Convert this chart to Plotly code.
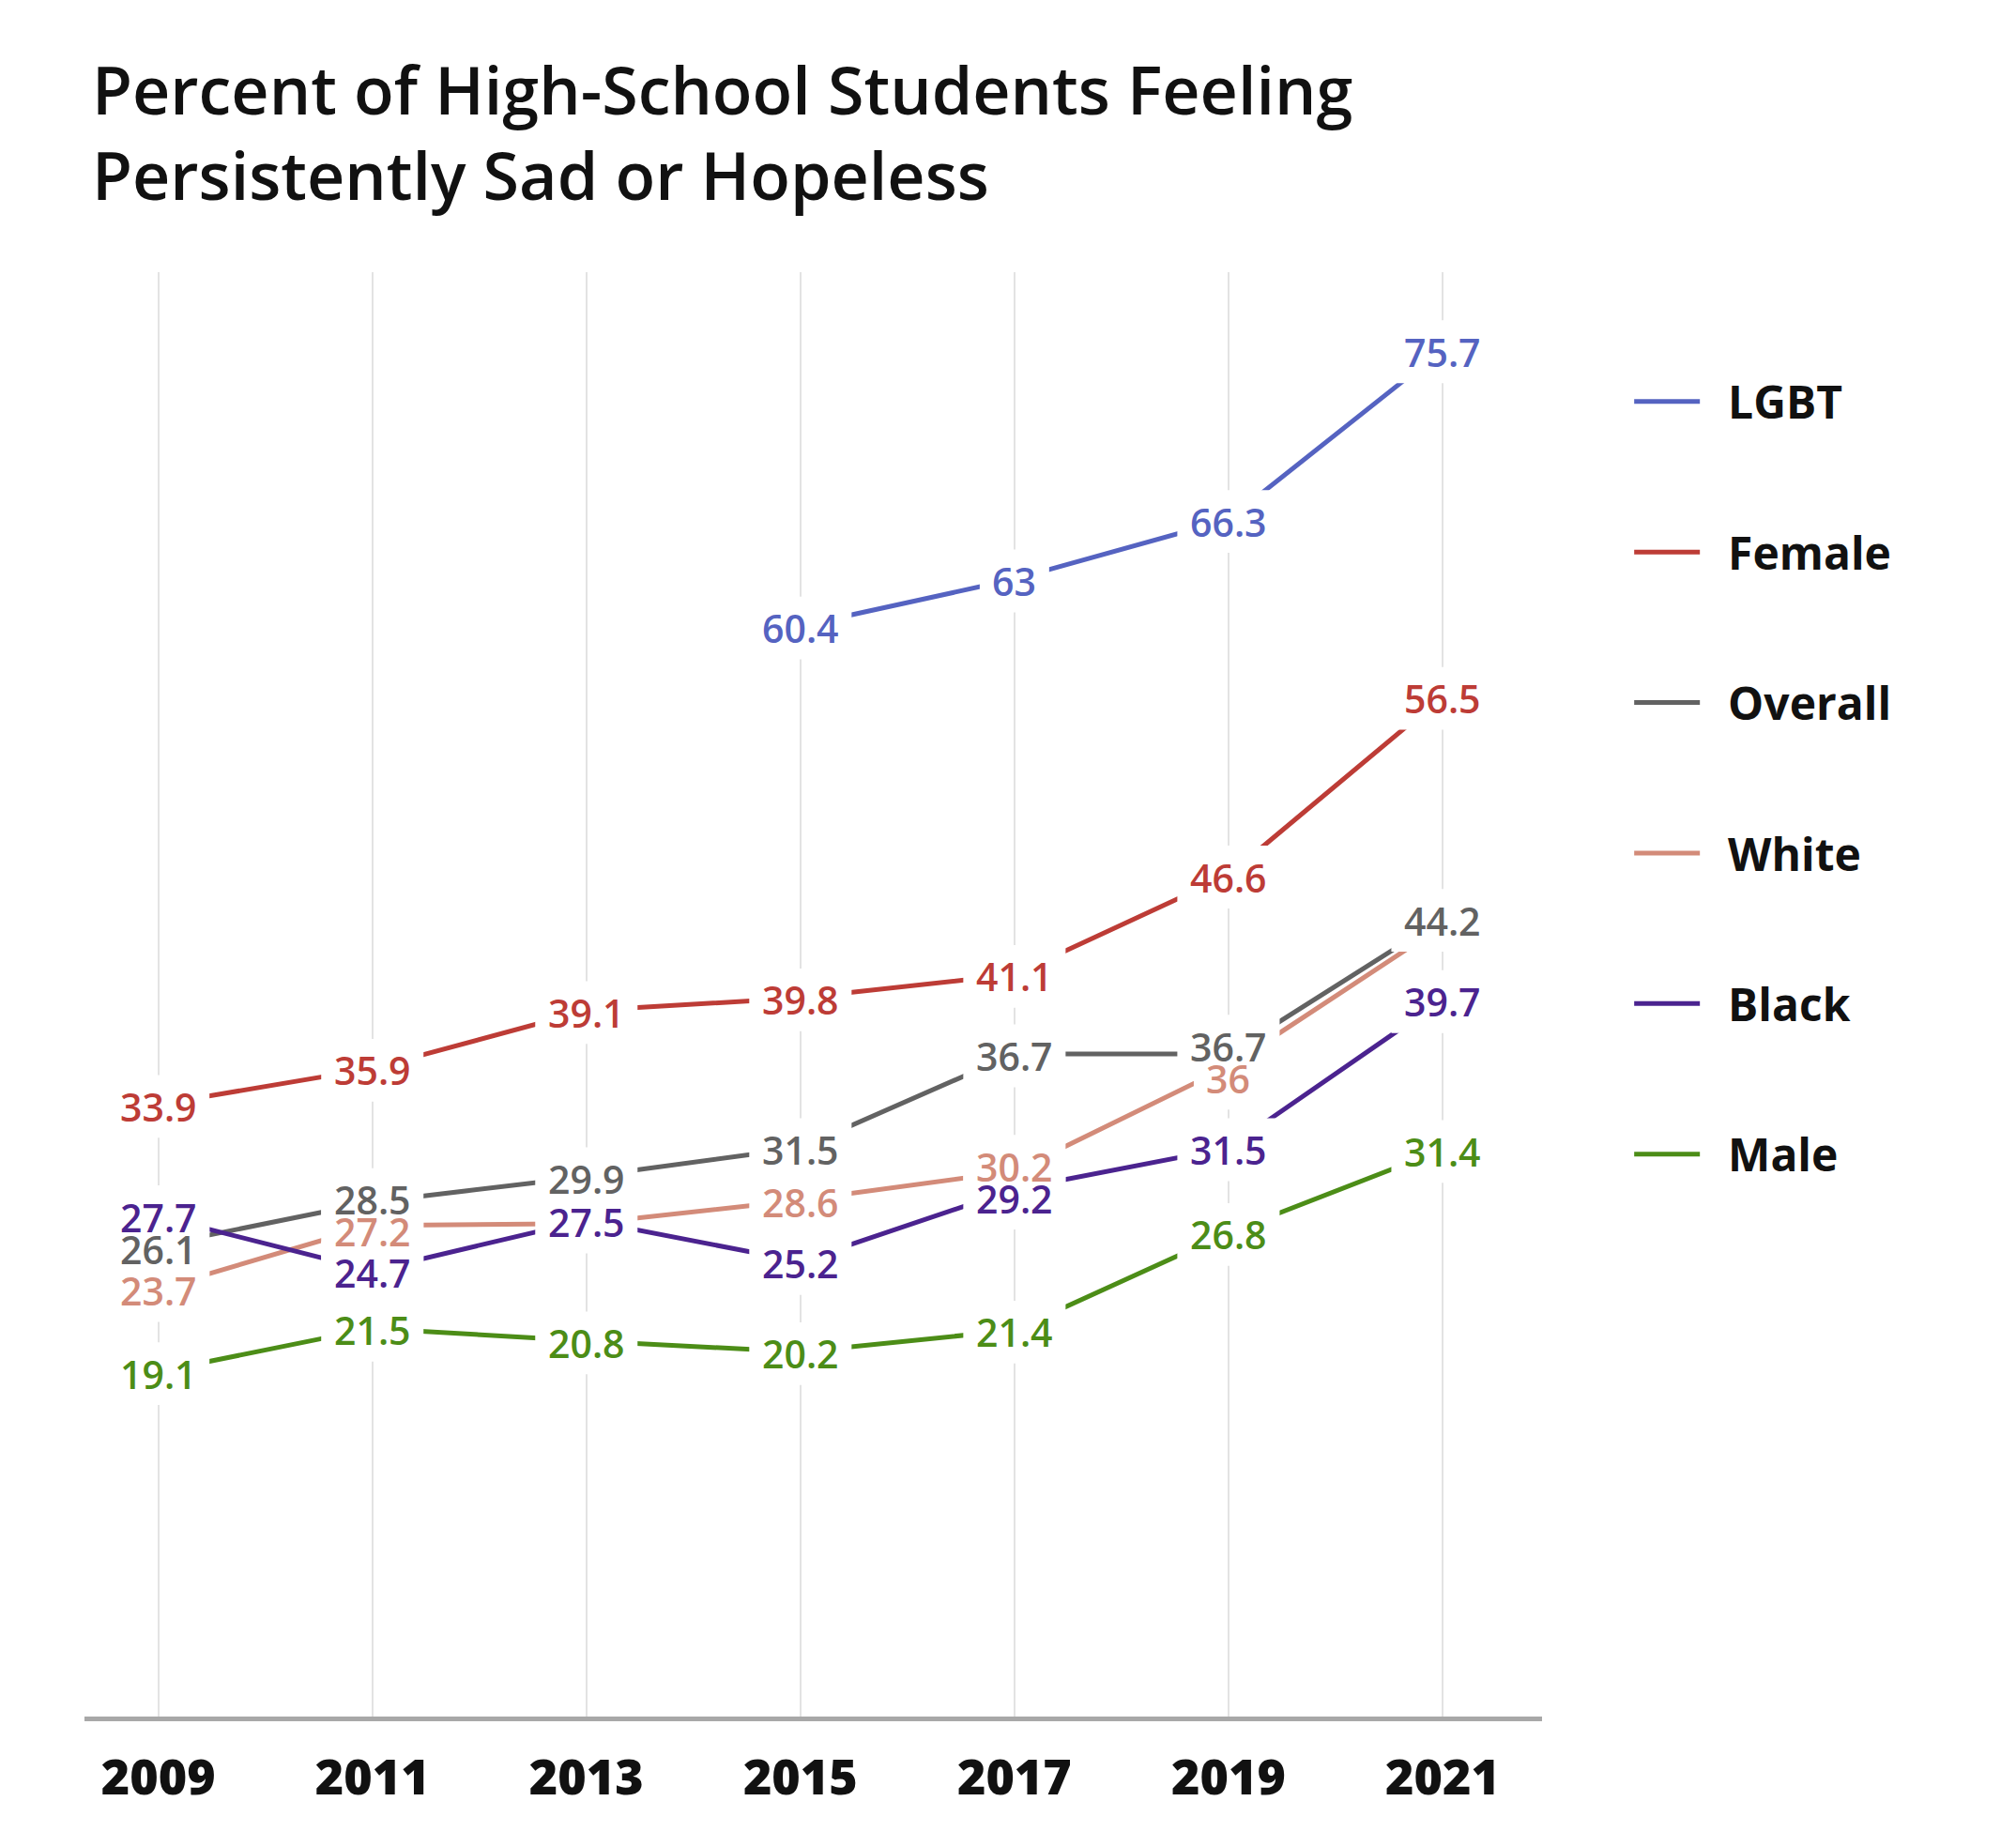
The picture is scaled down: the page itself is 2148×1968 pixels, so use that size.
import plotly.graph_objects as go

years = [2009, 2011, 2013, 2015, 2017, 2019, 2021]

series_names = ["LGBT", "Female", "Overall", "White", "Black", "Male"]
lgbt = [None, None, None, 60.4, 63.0, 66.3, 75.7]
female = [33.9, 35.9, 39.1, 39.8, 41.1, 46.6, 56.5]
overall = [26.1, 28.5, 29.9, 31.5, 36.7, 36.7, 44.2]
white = [23.7, 27.2, 27.3, 28.6, 30.2, 36.0, 43.8]
black = [27.7, 24.7, 27.5, 25.2, 29.2, 31.5, 39.7]
male = [19.1, 21.5, 20.8, 20.2, 21.4, 26.8, 31.4]

# which points carry a visible value label (hidden where labels collide)
white_labels = [True, True, False, True, True, True, False]

values = [lgbt, female, overall, white, black, male]
colors = ["#5563c1", "#bd3c36", "#626262", "#d38b79", "#4b238f", "#4c8d17"]
label_flags = [None, None, None, white_labels, None, None]

FONT = "Open Sans"
NBSP = "\u00a0"
LABEL_SIZE = 41

W, H = 2148, 1968
M_L, M_R, M_T, M_B = 82, 513, 282, 147
Y_RANGE = [0, 80]
PX_PER_UNIT = (H - M_T - M_B) / (Y_RANGE[1] - Y_RANGE[0])
MIN_SEP = 34  # px between stacked labels at the same year

fig = go.Figure()
for name, vals, col in zip(series_names, values, colors):
    fig.add_trace(go.Scatter(
        x=years, y=vals, mode="lines", name=NBSP * 2 + name, legendgroup=name,
        line=dict(color=col, width=5), hoverinfo="skip",
    ))

# collect labels and nudge them apart vertically per year
labels = []
for vals, col, flags in zip(values, colors, label_flags):
    for i, (yr, v) in enumerate(zip(years, vals)):
        if v is None or (flags is not None and not flags[i]):
            continue
        labels.append(dict(x=yr, v=v, col=col, pos=-v * PX_PER_UNIT))

for yr in years:
    group = sorted([l for l in labels if l["x"] == yr], key=lambda l: l["pos"])
    for _ in range(30):
        moved = False
        for a, b in zip(group, group[1:]):
            gap = b["pos"] - a["pos"]
            if gap < MIN_SEP - 0.01:
                d = (MIN_SEP - gap) / 2
                a["pos"] -= d
                b["pos"] += d
                moved = True
        if not moved:
            break


def text_width(t, size):
    w = 0.0
    for ch in t:
        w += 0.27 if ch == "." else 0.585
    return w * size


shapes = []
annotations = []
for l in labels:
    txt = f"{l['v']:g}"
    shift = -(l["pos"] - (-l["v"] * PX_PER_UNIT)) - 2
    half_w = text_width(txt, LABEL_SIZE) / 2 + 13
    half_h = LABEL_SIZE * 0.62 + 8
    shapes.append(dict(
        type="rect", layer="above", xref="x", yref="y",
        xsizemode="pixel", ysizemode="pixel", xanchor=l["x"], yanchor=l["v"],
        x0=-half_w, x1=half_w, y0=shift - half_h, y1=shift + half_h,
        fillcolor="white", line=dict(width=0),
    ))
    annotations.append(dict(
        x=l["x"], y=l["v"], xref="x", yref="y", text=txt, showarrow=False,
        xanchor="center", yanchor="middle", yshift=shift,
        font=dict(family=FONT, size=LABEL_SIZE, color=l["col"], weight=600),
    ))

fig.update_layout(
    width=W, height=H,
    paper_bgcolor="white", plot_bgcolor="white",
    margin=dict(l=M_L, r=M_R, t=M_T, b=M_B),
    title=dict(
        text="Percent of High-School Students Feeling<br>Persistently Sad or Hopeless",
        font=dict(family=FONT, size=70, color="#111111", weight=600),
        x=90 / W, xref="container", xanchor="left",
        y=1 - 114 / H, yref="container", yanchor="top",
        pad=dict(t=0),
    ),
    xaxis=dict(
        range=[2008.31, 2021.93], tickvals=years, ticktext=[str(y) for y in years],
        showgrid=True, gridcolor="#e3e3e3", gridwidth=2,
        showline=True, linecolor="#a8a8a8", linewidth=5,
        ticks="outside", ticklen=16, tickcolor="rgba(0,0,0,0)",
        tickfont=dict(family=FONT, size=52, color="#111111", weight=800),
        zeroline=False, fixedrange=True,
    ),
    yaxis=dict(
        range=Y_RANGE, showgrid=False, showticklabels=False, zeroline=False,
        showline=False, fixedrange=True,
    ),
    showlegend=True,
    legend=dict(
        x=1.06, xanchor="left", y=0.935, yanchor="top",
        font=dict(family=FONT, size=48, color="#111111", weight=700),
        tracegroupgap=95, itemwidth=70, bgcolor="rgba(0,0,0,0)",
    ),
    shapes=shapes,
    annotations=annotations,
)

fig.write_html("out.html")
